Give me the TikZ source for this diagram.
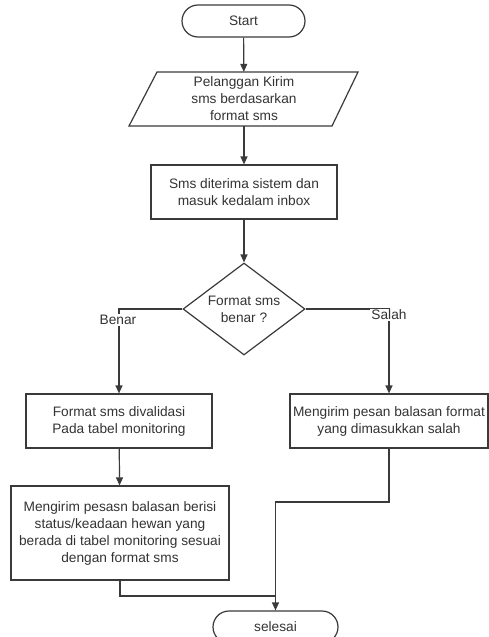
\documentclass[tikz,border=0pt]{standalone}
\usepackage{fontspec}
\setmainfont{Liberation Sans}
\usetikzlibrary{arrows.meta,shapes.geometric}
\definecolor{ln}{HTML}{3A3A3A}
\definecolor{tx}{HTML}{333333}
\tikzset{
  base/.style={font=\fontsize{13.7}{17}\selectfont, text=tx, align=center, inner sep=0pt},
  boxnode/.style={base, draw=ln, line width=1.2pt, rectangle},
  stadium/.style={base, draw=ln, line width=1.2pt, rectangle, rounded corners=16pt},
  plain/.style={base},
  lbl/.style={base, fill=white, inner sep=1pt},
  conn/.style={draw=ln, line width=1.2pt},
  arr/.style={conn, -{Triangle[length=8pt,width=7pt]}},
}
\begin{document}
\begin{tikzpicture}[x=1pt,y=-1pt]
\useasboundingbox (0,0) rectangle (489,637);
\node[stadium, minimum width=123pt, minimum height=32pt] (start) at (243.5,21) {Start};
\node[plain, minimum width=229pt, minimum height=54pt] (inp) at (244,99) {Pelanggan Kirim\\sms berdasarkan\\format sms};
\draw[conn] (157,72) -- (358,72) -- (332,126) -- (129,126) -- cycle;
\node[boxnode, minimum width=186pt, minimum height=54pt] (r1) at (244,192) {Sms diterima sistem dan\\masuk kedalam inbox};
\node[base, draw=ln, line width=1.2pt, diamond, aspect=1.33, minimum width=122pt, minimum height=92pt] (dia) at (244,309) {Format sms\\benar ?};
\node[boxnode, minimum width=186pt, minimum height=54pt] (r2l) at (119,421) {Format sms divalidasi\\Pada tabel monitoring};
\node[boxnode, minimum width=198pt, minimum height=54pt] (r2r) at (389,421) {Mengirim pesan balasan format\\yang dimasukkan salah};
\node[boxnode, minimum width=218pt, minimum height=94pt] (r3) at (120,533) {Mengirim pesasn balasan berisi\\status/keadaan hewan yang\\berada di tabel monitoring sesuai\\dengan format sms};
\node[stadium, minimum width=125pt, minimum height=32pt] (end) at (275.5,627) {selesai};
\coordinate (m) at (275.5,596);
\coordinate (k) at (275.5,502);
\draw[arr] (start) -- (inp);
\draw[arr] (inp) -- (r1);
\draw[arr] (r1) -- (dia);
\draw[arr] (dia.west) -| (r2l.north);
\draw[arr] (dia.east) -| (r2r.north);
\draw[arr] (r2l) -- (r3);
\draw[conn] (r3.south) |- (m);
\draw[arr] (r2r.south) |- (k) -- (end.north);
\node[lbl] (benar) at (118,320) {Benar};
\node[lbl] (salah) at (389,315) {Salah};
\end{tikzpicture}
\end{document}
